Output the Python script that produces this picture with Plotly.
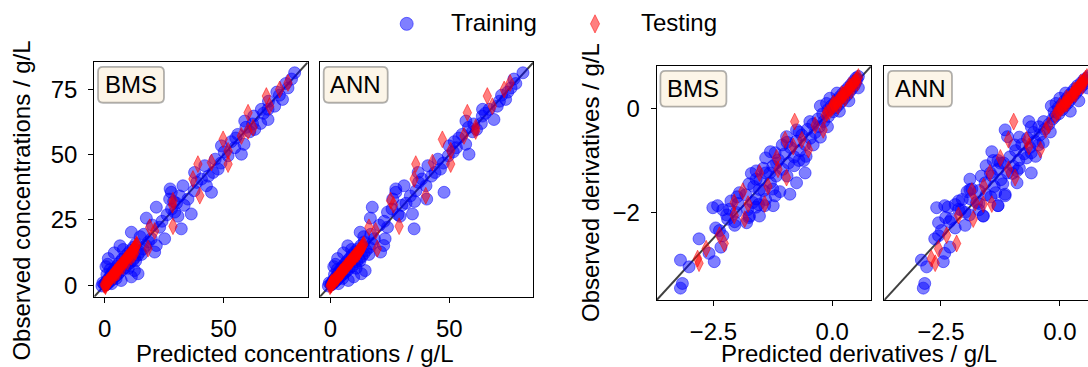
import plotly.graph_objects as go

W, H = 1088, 367
FONT = "Arial, 'Liberation Sans', sans-serif"
FS = 24

# ---------------- concentrations (g/L) ----------------
conc_train_obs = [
    0.1, 0.3, 0.5, 0.8, 1.0, 1.3, 1.6, 1.9, 2.2, 2.5, 2.9, 3.2, 3.6, 3.9, 4.3, 4.7, 5.0, 5.4, 5.9, 6.3,
    6.8, 7.2, 7.7, 8.1, 8.6, 9.0, 9.5, 10.0, 10.5, 11.0, 11.6, 12.1, 12.7, 13.3, 13.9, 14.5, 15.2, 15.9, 16.6, 10.2,
    8.0, 7.1, 12.4, 15.1, 3.2, 4.4, 1.8, 5.6, 2.6, 6.5, 9.3, 11.8, 4.1, 6.0, 13.7, 0.6, -0.3, 0.9,
    20.3, 25.7, 29.9, 22.2, 35.6, 33.0, 28.0, 38.1, 27.3, 21.6, 12.7, 15.2, 17.8, 17.8, 40.7, 38.1, 35.6, 43.2, 44.5, 33.0,
    45.8, 43.2, 36.9, 31.4, 24.5, 19.5, 27.0, 30.6, 34.2, 39.4, 41.8, 23.0, 26.4, 29.2, 36.2, 18.6, 32.1,
    49.6, 52.7, 50.2, 62.9, 67.4, 63.5, 67.4, 75.6, 81.4, 68.6, 59.7, 53.4, 48.3, 55.0, 57.8, 60.5, 64.8, 70.5, 72.8, 74.0,
    77.3, 79.0, 46.8, 51.1, 56.4, 61.8, 65.9, 71.2, 58.8, 54.0, 62.0,
]
conc_train_bms = [
    0.4, -0.2, 1.1, 0.3, 1.6, 0.7, 2.4, 1.2, 3.0, 1.7, 3.8, 2.1, 4.7, 2.6, 5.6, 3.0, 6.3, 3.6, 7.4, 4.2,
    8.5, 5.1, 9.4, 5.8, 10.6, 6.5, 11.8, 7.4, 12.6, 8.6, 13.9, 9.7, 14.8, 10.8, 16.1, 12.0, 17.3, 13.1, 18.4, 1.5,
    1.2, 0.5, 4.0, 6.4, 11.2, 14.0, 6.9, 12.5, 4.8, 9.9, 13.0, 15.5, 0.9, 2.3, 7.8, 2.9, -1.2, -0.8,
    11.2, 17.5, 21.7, 23.1, 28.0, 27.3, 29.4, 32.9, 36.4, 32.2, 21.0, 21.7, 19.6, 25.2, 40.7, 42.8, 44.9, 45.6, 47.7, 35.0,
    42.1, 37.8, 27.5, 30.2, 24.1, 16.4, 26.2, 33.4, 31.5, 38.7, 43.6, 20.1, 30.8, 28.1, 37.6, 14.9, 29.0,
    51.9, 54.7, 57.5, 58.9, 65.9, 68.7, 68.7, 77.1, 79.9, 71.5, 63.1, 49.1, 46.5, 53.2, 56.0, 59.4, 62.7, 68.9, 73.5, 72.4,
    76.2, 78.6, 48.9, 50.3, 55.1, 62.2, 66.8, 74.8, 61.0, 58.6, 65.6,
]
conc_train_ann = [
    0.2, 0.6, 0.3, 1.2, 0.7, 1.8, 1.1, 2.5, 1.6, 3.2, 2.2, 4.0, 2.7, 4.9, 3.2, 5.9, 3.6, 6.8, 4.1, 7.9,
    4.8, 9.0, 5.6, 10.1, 6.4, 11.0, 7.2, 12.1, 8.3, 13.2, 9.1, 14.1, 10.2, 15.0, 11.4, 16.4, 12.8, 17.6, 14.2, 3.0,
    2.1, 1.4, 5.5, 7.3, 9.8, 13.0, 7.5, 14.6, 5.1, 10.8, 12.4, 16.2, 1.7, 2.9, 8.9, 3.4, -0.9, -0.5,
    12.5, 16.8, 17.6, 24.0, 27.5, 26.2, 24.0, 31.0, 34.5, 35.2, 21.1, 22.4, 18.5, 23.0, 38.5, 40.2, 47.8, 44.0, 46.3, 40.5,
    41.0, 36.9, 27.5, 31.8, 22.6, 17.0, 28.4, 30.0, 33.6, 37.1, 42.5, 20.6, 29.3, 25.9, 36.0, 14.0, 35.4,
    49.6, 53.0, 58.3, 57.0, 64.0, 68.8, 66.8, 76.0, 81.0, 70.2, 61.5, 50.0, 45.2, 52.1, 55.4, 58.1, 63.9, 71.1, 72.0, 74.6,
    78.0, 77.2, 47.5, 51.7, 54.0, 60.3, 65.2, 73.7, 59.8, 56.9, 63.5,
]

conc_test_obs = [
    0.0, 0.4, 0.7, 1.1, 1.5, 1.8, 2.3, 2.6, 3.1, 3.4, 3.9, 4.3, 4.7, 5.0, 5.5, 5.9, 6.2, 6.8, 7.1, 7.6,
    8.0, 8.5, 8.9, 9.4, 9.8, 10.3, 10.7, 11.2, 11.6, 12.1, 12.5, 13.0, 13.4, 13.9, 14.3, 14.8, 15.3, 15.7,
    1.0, 3.6, 5.2, 7.3, 9.1, 10.9, 12.8, 0.2, -0.4, 4.8, 11.9,
    22.2, 20.8, 22.6, 14.0, 32.4, 30.8, 34.3, 40.7, 46.4, 47.0, 46.4, 51.5, 55.9, 57.2, 59.1, 60.4, 66.1, 68.6, 72.5, 75.0, 77.5,
]
conc_test_bms = [
    0.2, 0.1, 0.8, 0.9, 1.6, 1.5, 2.1, 2.4, 2.7, 3.2, 3.4, 3.9, 4.3, 4.4, 4.9, 5.4, 5.5, 6.1, 6.5, 6.8,
    7.2, 7.6, 8.1, 8.4, 8.9, 9.2, 9.6, 10.1, 10.4, 10.9, 11.3, 11.6, 12.0, 12.4, 12.7, 13.1, 13.5, 13.4,
    1.4, 4.1, 5.8, 7.7, 9.6, 11.2, 12.9, -0.3, 0.3, 5.1, 12.2,
    18.9, 21.0, 28.7, 18.2, 28.7, 28.5, 40.0, 37.1, 39.2, 44.9, 51.9, 51.9, 49.8, 57.5, 60.3, 62.4, 60.3, 69.4, 68.0, 73.6, 77.1,
]
conc_test_ann = [
    0.1, 0.5, 0.4, 1.2, 1.3, 1.9, 2.0, 2.7, 2.9, 3.1, 3.6, 4.0, 4.5, 4.6, 5.2, 5.3, 5.8, 6.3, 6.4, 7.0,
    7.3, 7.9, 8.0, 8.7, 9.0, 9.5, 9.8, 10.4, 10.6, 11.2, 11.4, 12.0, 12.2, 12.7, 13.1, 13.4, 13.8, 14.0,
    0.6, 3.3, 4.9, 6.8, 8.6, 10.3, 12.1, 0.0, -0.2, 4.2, 11.5,
    16.2, 19.0, 28.9, 19.7, 25.3, 26.5, 40.1, 35.2, 35.9, 42.9, 50.6, 50.6, 47.1, 56.2, 61.1, 61.1, 57.6, 68.1, 66.0, 73.1, 75.6,
]

# ---------------- derivatives (g/L) ----------------
deriv_train_obs = [
    -3.46, -3.37, -2.92, -3.05, -2.51, -2.79, -2.95, -2.35, -2.67, -1.91, -1.87, -1.94, -1.78, -2.00, -2.07, -2.07, -1.81,
    -1.56, -1.87, -1.87, -1.24, -1.05, -1.65, -1.43, -1.24, -0.54, -0.41, -0.25, -0.92, -0.83, -2.25, -2.13, -1.36, -1.68,
    -2.45, -2.30, -2.18, -2.05, -1.95, -1.83, -1.74, -1.66, -1.58, -1.50, -1.43, -1.37, -1.30, -1.24, -1.17, -1.11,
    -1.05, -0.99, -0.93, -0.87, -0.81, -0.75, -0.69, -0.63, -0.57, -0.51, -0.46, -0.40, -0.35, -0.30, -0.25, -0.20,
    -1.60, -1.20, -0.70, -1.00, -1.85, -2.20,
    -1.45, -1.15, -0.85, -0.65, -1.70, -1.95, -1.30, -1.00, -0.70, -1.75, -2.10, -1.55, -0.45, -0.35, -0.95, -1.10,
    -1.25, -0.55, -1.90, -1.62,
    -0.15, -0.10, -0.06, -0.02, 0.02, 0.05, 0.08, 0.11, 0.14, 0.17, 0.20, 0.23, 0.26, 0.29, 0.32, 0.35, 0.38, 0.41,
    0.44, 0.47, 0.50, 0.53, 0.56, 0.59, 0.62, 0.10, 0.20, 0.05, 0.30, -0.05, 0.15, 0.40,
]
deriv_train_bms = [
    -3.19, -3.15, -3.19, -3.01, -2.80, -2.59, -2.48, -2.37, -2.34, -2.51, -2.41, -2.16, -2.13, -2.02, -1.74, -1.53, -1.67,
    -1.53, -1.42, -1.24, -1.31, -1.17, -0.89, -0.75, -0.57, -0.96, -0.75, -0.47, -0.55, -1.30, -2.05, -2.20, -1.60, -1.20,
    -2.30, -2.45, -2.05, -2.22, -1.78, -1.98, -1.60, -1.82, -1.44, -1.65, -1.30, -1.52, -1.18, -1.40, -1.04, -1.25,
    -0.92, -1.13, -0.80, -1.00, -0.68, -0.88, -0.57, -0.76, -0.46, -0.64, -0.36, -0.52, -0.27, -0.41, -0.18, -0.30,
    -1.10, -1.60, -1.05, -0.60, -1.55, -1.80,
    -1.75, -1.45, -1.20, -0.95, -2.00, -2.30, -0.95, -0.70, -0.40, -1.40, -1.75, -1.25, -0.70, -0.10, -1.40, -0.80,
    -1.70, -0.25, -1.60, -1.95,
    -0.08, -0.20, 0.02, -0.09, 0.08, -0.02, 0.14, 0.05, 0.20, 0.10, 0.25, 0.16, 0.31, 0.22, 0.36, 0.28, 0.41, 0.34,
    0.46, 0.40, 0.49, 0.45, 0.52, 0.50, 0.55, -0.12, -0.05, -0.25, 0.10, 0.15, 0.35, 0.55,
]
deriv_train_ann = [
    -2.87, -2.84, -2.91, -2.80, -2.63, -2.42, -2.45, -2.49, -2.31, -2.59, -2.42, -2.13, -2.13, -1.99, -1.61, -1.61, -1.75,
    -1.89, -1.30, -1.30, -1.46, -1.25, -1.15, -0.90, -0.60, -1.10, -1.15, -0.65, -0.51, -1.43, -1.99, -2.28, -1.89, -1.15,
    -2.55, -2.20, -2.32, -1.90, -2.08, -1.70, -1.88, -1.55, -1.70, -1.38, -1.57, -1.24, -1.42, -1.10, -1.30, -0.98,
    -1.18, -0.86, -1.05, -0.75, -0.93, -0.63, -0.80, -0.52, -0.68, -0.42, -0.55, -0.32, -0.44, -0.23, -0.34, -0.15,
    -1.95, -0.90, -0.45, -1.40, -2.20, -2.55,
    -1.20, -0.85, -0.60, -0.35, -1.45, -1.70, -1.65, -1.30, -0.95, -2.05, -2.40, -1.85, -0.20, -0.60, -0.70, -1.55,
    -1.00, -0.85, -2.35, -1.35,
    -0.10, -0.02, -0.12, 0.05, -0.03, 0.11, 0.04, 0.17, 0.09, 0.22, 0.15, 0.27, 0.20, 0.33, 0.26, 0.38, 0.31, 0.44,
    0.37, 0.50, 0.45, 0.55, 0.51, 0.58, 0.60, -0.08, 0.00, -0.18, 0.12, 0.22, 0.40, 0.58,
]

deriv_test_obs = [
    -2.89, -2.98, -2.44, -2.60, -2.06, -1.81, -2.13, -1.84, -1.59, -1.84, -1.24, -0.95, -1.17, -1.33, -0.60, -0.73,
    -0.60, -0.79, -0.25, -0.32, -0.41, -2.70, -1.50,
    -0.13, -0.08, -0.05, 0.01, 0.03, 0.07, 0.09, 0.12, 0.16, 0.18, 0.21, 0.25, 0.27, 0.30, 0.34, 0.36, 0.40, 0.42,
    0.45, 0.49, 0.51, 0.54, 0.58, 0.61, 0.05, 0.20, 0.35, 0.50, 0.10, 0.28, 0.44,
]
deriv_test_bms = [
    -2.83, -2.80, -2.37, -2.27, -2.06, -2.06, -1.84, -1.77, -1.88, -1.42, -1.53, -1.17, -1.14, -0.96, -0.99, -0.82,
    -0.64, -0.50, -0.79, -0.36, -0.19, -2.65, -1.35,
    -0.15, -0.11, -0.06, -0.02, 0.01, 0.04, 0.08, 0.10, 0.13, 0.17, 0.19, 0.22, 0.25, 0.28, 0.30, 0.34, 0.36, 0.39,
    0.42, 0.44, 0.47, 0.50, 0.53, 0.55, 0.12, 0.27, 0.40, 0.53, 0.02, 0.20, 0.36,
]
deriv_test_ann = [
    -2.70, -2.62, -2.38, -2.17, -2.13, -1.78, -1.82, -1.61, -1.85, -1.43, -1.47, -1.25, -1.08, -0.94, -1.08, -0.65,
    -0.70, -0.41, -0.97, -0.23, -0.30, -2.55, -1.60,
    -0.10, -0.06, -0.02, 0.02, 0.05, 0.08, 0.11, 0.13, 0.16, 0.19, 0.22, 0.25, 0.27, 0.30, 0.33, 0.35, 0.38, 0.41,
    0.43, 0.46, 0.49, 0.51, 0.54, 0.57, 0.00, 0.14, 0.30, 0.44, 0.15, 0.33, 0.48,
]

conc_ticks = [0, 25, 50, 75]
conc_xticks = [0, 50]
deriv_xticks = [-2.5, 0.0]
deriv_xticktext = ["\u22122.5", "0.0"]
deriv_yticks = [-2, 0]
deriv_yticktext = ["\u22122", "0"]

conc_range = [-4.4, 85.4]
deriv_range = [-3.69, 0.815]

BLUE = "rgba(0,0,255,0.5)"
RED = "rgba(255,0,0,0.5)"

# panel frames in pixels: left, right, top, bottom
panels = [
    ("BMS", (94.3, 307.7), (62.7, 298.3), "conc", conc_train_bms, conc_test_bms),
    ("ANN", (320.0, 533.4), (62.7, 298.3), "conc", conc_train_ann, conc_test_ann),
    ("BMS", (656.7, 871.0), (66.7, 301.7), "deriv", deriv_train_bms, deriv_test_bms),
    ("ANN", (884.3, 1098.6), (66.7, 301.7), "deriv", deriv_train_ann, deriv_test_ann),
]


def fx(p):
    return p / W


def fy(p):
    return 1 - p / H


fig = go.Figure()
layout = {}
shapes = []
annotations = []

for i, (label, (xl, xr), (yt, yb), kind, pred_train, pred_test) in enumerate(panels, start=1):
    xa = "x" if i == 1 else f"x{i}"
    ya = "y" if i == 1 else f"y{i}"
    rng = conc_range if kind == "conc" else deriv_range
    obs_train = conc_train_obs if kind == "conc" else deriv_train_obs
    obs_test = conc_test_obs if kind == "conc" else deriv_test_obs

    # frame beyond the page edge is cut at the page border
    x_right = min(xr, W)
    xrng = [rng[0], rng[0] + (rng[1] - rng[0]) * (x_right - xl) / (xr - xl)]

    fig.add_trace(go.Scatter(x=rng, y=rng, mode="lines", xaxis=xa, yaxis=ya,
                             line=dict(color="rgba(0,0,0,0.75)", width=2),
                             showlegend=False, hoverinfo="skip"))
    fig.add_trace(go.Scatter(x=pred_train, y=obs_train, mode="markers", xaxis=xa, yaxis=ya,
                             marker=dict(symbol="circle", size=12, color=BLUE,
                                         line=dict(color=BLUE, width=1)),
                             showlegend=False))
    fig.add_trace(go.Scatter(x=pred_test, y=obs_test, mode="markers", xaxis=xa, yaxis=ya,
                             marker=dict(symbol="diamond-tall", size=12, color=RED,
                                         line=dict(color=RED, width=1)),
                             showlegend=False))

    common = dict(showgrid=False, zeroline=False, showline=True, linecolor="black", linewidth=1.3,
                  ticks="outside", ticklen=5, tickwidth=1.3, tickcolor="black",
                  tickfont=dict(family=FONT, size=FS, color="black"))
    xkw = dict(common, domain=[fx(xl), fx(x_right)], range=xrng, anchor=ya, mirror=True,
               ticklabelstandoff=5)
    if kind == "conc":
        xkw.update(tickvals=conc_xticks)
    else:
        xkw.update(tickvals=deriv_xticks, ticktext=deriv_xticktext)
    ykw = dict(common, domain=[fy(yb), fy(yt)], range=rng, anchor=xa,
               mirror=bool(x_right == xr), ticklabelstandoff=6)
    if i in (1, 3):
        if kind == "conc":
            ykw.update(tickvals=conc_ticks)
        else:
            ykw.update(tickvals=deriv_yticks, ticktext=deriv_yticktext)
    else:
        ykw.update(showticklabels=False, ticks="")
    layout["xaxis" if i == 1 else f"xaxis{i}"] = xkw
    layout["yaxis" if i == 1 else f"yaxis{i}"] = ykw

    # rounded label box in the upper-left corner
    bw = 66 if label == "BMS" else 64
    bx0, by0 = xl + 3.7, yt + 4.6
    bx1, by1 = bx0 + bw, by0 + 36
    r = 5
    path = (f"M{fx(bx0 + r)},{fy(by0)} L{fx(bx1 - r)},{fy(by0)} Q{fx(bx1)},{fy(by0)} {fx(bx1)},{fy(by0 + r)} "
            f"L{fx(bx1)},{fy(by1 - r)} Q{fx(bx1)},{fy(by1)} {fx(bx1 - r)},{fy(by1)} "
            f"L{fx(bx0 + r)},{fy(by1)} Q{fx(bx0)},{fy(by1)} {fx(bx0)},{fy(by1 - r)} "
            f"L{fx(bx0)},{fy(by0 + r)} Q{fx(bx0)},{fy(by0)} {fx(bx0 + r)},{fy(by0)} Z")
    shapes.append(dict(type="path", path=path, xref="paper", yref="paper",
                       fillcolor="rgba(245,222,179,0.3)",
                       line=dict(color="rgba(0,0,0,0.3)", width=1.8), layer="above"))
    annotations.append(dict(text=label, x=fx((bx0 + bx1) / 2), y=fy((by0 + by1) / 2),
                            xref="paper", yref="paper", xanchor="center", yanchor="middle",
                            showarrow=False, font=dict(family=FONT, size=FS, color="black")))

# axis titles
titles = [
    ("Observed concentrations / g/L", 21.7, 202, -90),
    ("Predicted concentrations / g/L", 295, 355, 0),
    ("Observed derivatives / g/L", 591, 184, -90),
    ("Predicted derivatives / g/L", 859, 355, 0),
]
for text, px, py, ang in titles:
    annotations.append(dict(text=text, x=fx(px), y=fy(py), xref="paper", yref="paper",
                            xanchor="center", yanchor="middle", textangle=ang, showarrow=False,
                            font=dict(family=FONT, size=FS, color="black")))

# legend row above the panels, drawn on a hidden full-page axis
legend_items = [("Training", "circle", 13, BLUE, 406.7, 449.3),
                ("Testing", "diamond-tall", 13, RED, 595.0, 639.3)]
for name, sym, size, col, mx, tx in legend_items:
    fig.add_trace(go.Scatter(x=[mx], y=[24], mode="markers", xaxis="x5", yaxis="y5",
                             marker=dict(symbol=sym, size=size, color=col, line=dict(color=col, width=1)),
                             showlegend=False, hoverinfo="skip", cliponaxis=False))
    annotations.append(dict(text=name, x=fx(tx), y=fy(23), xref="paper", yref="paper",
                            xanchor="left", yanchor="middle", showarrow=False,
                            font=dict(family=FONT, size=FS, color="black")))
layout["xaxis5"] = dict(domain=[0, 1], range=[0, W], visible=False, anchor="y5")
layout["yaxis5"] = dict(domain=[0, 1], range=[H, 0], visible=False, anchor="x5")

fig.update_layout(
    width=W, height=H, margin=dict(l=0, r=0, t=0, b=0),
    paper_bgcolor="white", plot_bgcolor="rgba(0,0,0,0)",
    showlegend=False, shapes=shapes, annotations=annotations,
    font=dict(family=FONT, size=FS, color="black"),
    **layout,
)

fig.write_html("out.html")
